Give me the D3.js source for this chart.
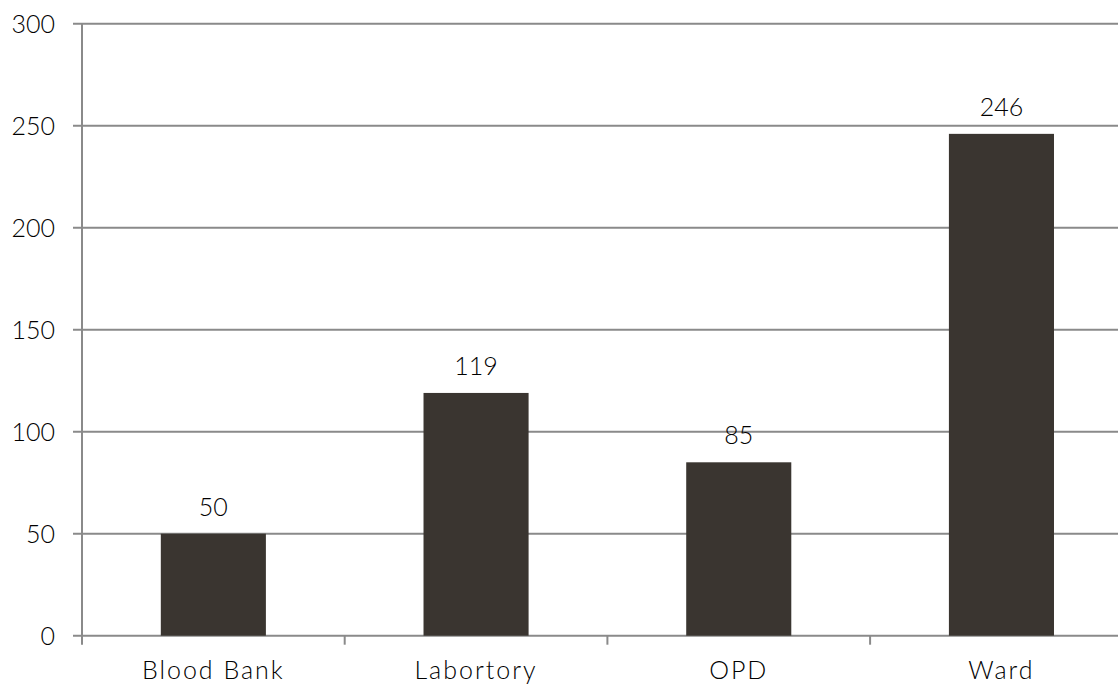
<!DOCTYPE html>
<html>
<head>
<meta charset="utf-8">
<script src="https://cdn.jsdelivr.net/npm/d3@7"></script>
<style>
  html, body { margin: 0; padding: 0; background: #fff; }
  svg { display: block; }
  text { font-family: "Lato", "DejaVu Sans", sans-serif; font-weight: 300; fill: #000; }
</style>
</head>
<body>
<svg id="chart" width="1118" height="687"></svg>
<script>
const categories = ["Blood Bank", "Labortory", "OPD", "Ward"];
const values = [50, 119, 85, 246];
const yTicks = [0, 50, 100, 150, 200, 250, 300];

const W = 1118, H = 687;
const plotLeft = 82, plotTop = 23.7, plotBottom = 635.7;
const step = 262.7;

const svg = d3.select("#chart");

const x = d3.scaleBand()
  .domain(categories)
  .range([plotLeft, plotLeft + step * categories.length])
  .padding(0);

const y = d3.scaleLinear()
  .domain([0, 300])
  .range([plotBottom, plotTop]);

const gridColor = "#8a8a8a";
const fontSize = 25;

// horizontal gridlines with short tick stubs on the left
svg.append("g")
  .selectAll("line")
  .data(yTicks)
  .join("line")
  .attr("x1", plotLeft - 9)
  .attr("x2", W)
  .attr("y1", d => y(d))
  .attr("y2", d => y(d))
  .attr("stroke", gridColor)
  .attr("stroke-width", 2);

// y axis labels
svg.append("g")
  .selectAll("text")
  .data(yTicks)
  .join("text")
  .attr("x", plotLeft - 27)
  .attr("y", d => y(d))
  .attr("dy", "0.36em")
  .attr("text-anchor", "end")
  .attr("font-size", fontSize)
  .text(d => d);

// vertical axis line
svg.append("line")
  .attr("x1", plotLeft).attr("x2", plotLeft)
  .attr("y1", y(300)).attr("y2", plotBottom + 9)
  .attr("stroke", gridColor)
  .attr("stroke-width", 2);

// category tick marks below the baseline
const catBounds = categories.map(c => x(c)).concat([x(categories[categories.length - 1]) + x.bandwidth()]);
svg.append("g")
  .selectAll("line")
  .data(catBounds.slice(1))
  .join("line")
  .attr("x1", d => d).attr("x2", d => d)
  .attr("y1", plotBottom).attr("y2", plotBottom + 9)
  .attr("stroke", gridColor)
  .attr("stroke-width", 2);

// bars
const barW = x.bandwidth() * 0.4;
svg.append("g")
  .selectAll("rect")
  .data(values)
  .join("rect")
  .attr("x", (d, i) => x(categories[i]) + (x.bandwidth() - barW) / 2)
  .attr("y", d => y(d))
  .attr("width", barW)
  .attr("height", d => plotBottom - y(d))
  .attr("fill", "#3a3530");

// value labels
svg.append("g")
  .selectAll("text")
  .data(values)
  .join("text")
  .attr("x", (d, i) => x(categories[i]) + x.bandwidth() / 2)
  .attr("y", d => y(d) - 18)
  .attr("text-anchor", "middle")
  .attr("font-size", fontSize)
  .text(d => d);

// category labels
svg.append("g")
  .selectAll("text")
  .data(categories)
  .join("text")
  .attr("x", d => x(d) + x.bandwidth() / 2)
  .attr("y", 679)
  .attr("text-anchor", "middle")
  .attr("font-size", fontSize)
  .attr("letter-spacing", 2)
  .text(d => d);
</script>
</body>
</html>
